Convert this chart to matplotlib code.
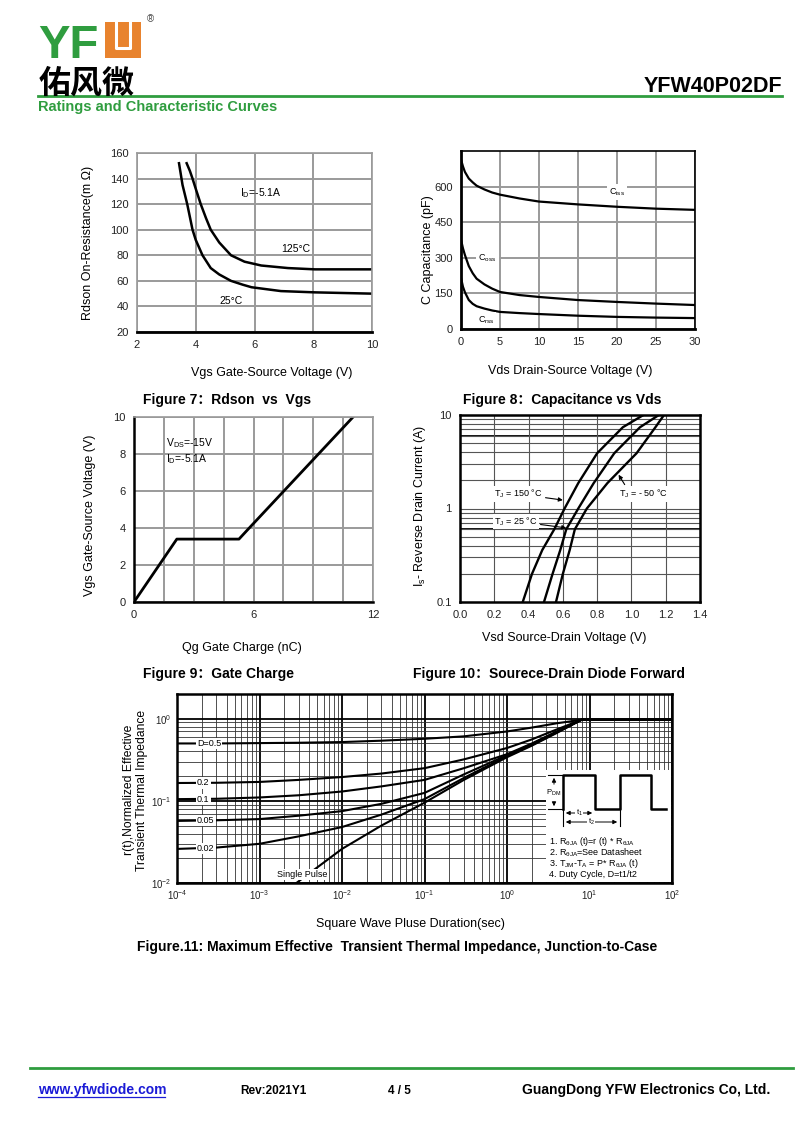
import numpy as np
import matplotlib
matplotlib.use('Agg')
import matplotlib.pyplot as plt
from matplotlib.lines import Line2D
from matplotlib.patches import Rectangle
from matplotlib.ticker import LogLocator, NullFormatter, MultipleLocator, LogFormatterMathtext, FixedLocator, FixedFormatter

plt.rcParams['font.family'] = ['Liberation Sans', 'Noto Sans CJK SC', 'DejaVu Sans']
plt.rcParams['mathtext.fontset'] = 'custom'
plt.rcParams['mathtext.rm'] = 'Liberation Sans'
plt.rcParams['mathtext.it'] = 'Liberation Sans:italic'
plt.rcParams['mathtext.bf'] = 'Liberation Sans:bold'

# ---------------- data ----------------
# Figure 7: Rdson vs Vgs
vgs_25 = [3.43, 3.55, 3.71, 3.89, 4.0, 4.23, 4.51, 4.8, 5.2, 5.6, 5.9, 6.4, 6.9, 8.06, 10.0]
rds_25 = [152, 135, 120, 100, 92, 80, 70, 65, 60, 57, 55, 53.5, 52, 51, 50]
vgs_125 = [3.69, 3.8, 3.89, 4.0, 4.17, 4.35, 4.51, 4.8, 5.2, 5.66, 6.23, 7.14, 8.06, 10.0]
rds_125 = [152, 146, 140, 132, 120, 109, 100, 90, 80, 75, 72, 70, 69, 69]
rds_xticks = [2, 4, 6, 8, 10]
rds_yticks = [20, 40, 60, 80, 100, 120, 140, 160]

# Figure 8: Capacitance vs Vds
vds = [0, 0.25, 0.5, 1, 1.5, 2, 3, 4, 5, 7.5, 10, 15, 20, 25, 30]
ciss = [714, 685, 662, 634, 618, 604, 588, 575, 566, 550, 537, 525, 515, 507, 502]
coss = [376, 340, 312, 265, 235, 212, 188, 170, 156, 143, 135, 122, 114, 107, 101]
crss = [215, 178, 155, 122, 106, 96, 86, 78, 72, 67, 63, 56, 51, 48, 46]
cap_xticks = [0, 5, 10, 15, 20, 25, 30]
cap_yticks = [0, 150, 300, 450, 600]

# Figure 9: Gate charge
qg = [0, 2.15, 5.27, 5.7, 11.0]
vgs_q = [0, 3.4, 3.4, 3.9, 10.0]
qg_xticks = [0, 6, 12]
qg_yticks = [0, 2, 4, 6, 8, 10]

# Figure 10: Source-drain diode forward
isd = [0.1, 0.2, 0.36, 0.6, 1.0, 1.87, 3.9, 7.4, 10.0]
vsd_150 = [0.366, 0.42, 0.48, 0.55, 0.61, 0.69, 0.80, 0.95, 1.07]
vsd_25 = [0.49, 0.54, 0.585, 0.62, 0.69, 0.78, 0.90, 1.05, 1.16]
vsd_m50 = [0.56, 0.60, 0.64, 0.67, 0.74, 0.86, 1.03, 1.14, 1.19]
vsd_xticks = [0.0, 0.2, 0.4, 0.6, 0.8, 1.0, 1.2, 1.4]
isd_emph_grid = [0.6, 6]

# Figure 11: transient thermal impedance
t_d = [1e-4, 3e-4, 1e-3, 3e-3, 1e-2, 3e-2, 0.1, 0.3, 1, 2, 4, 8, 100]
r_d05 = [0.50, 0.50, 0.505, 0.51, 0.52, 0.54, 0.57, 0.61, 0.70, 0.78, 0.88, 0.97, 0.97]
r_d02 = [0.165, 0.166, 0.17, 0.18, 0.195, 0.215, 0.25, 0.32, 0.44, 0.56, 0.74, 0.97, 0.97]
r_d01 = [0.105, 0.106, 0.11, 0.117, 0.13, 0.15, 0.18, 0.25, 0.37, 0.50, 0.70, 0.97, 0.97]
r_d005 = [0.057, 0.058, 0.06, 0.066, 0.075, 0.092, 0.125, 0.21, 0.36, 0.49, 0.69, 0.97, 0.97]
r_d002 = [0.026, 0.027, 0.03, 0.037, 0.048, 0.068, 0.105, 0.19, 0.35, 0.48, 0.68, 0.97, 0.97]
t_single = [0.0028, 0.01, 0.03, 0.1, 0.3, 1, 2, 4, 8, 100]
r_single = [0.01, 0.026, 0.05, 0.095, 0.18, 0.34, 0.47, 0.67, 0.97, 0.97]
duty_labels = ['D=0.5', '0.2', '0.1', '0.05', '0.02']
duty_label_y = [0.5, 0.165, 0.105, 0.057, 0.026]

# inset pulse diagram (schematic units)
pulse_x = [17, 17, 49, 49, 74, 74, 105, 105, 120]
pulse_y = [39, 5, 5, 39, 39, 5, 5, 39, 39]

# ---------------- figure ----------------
W, H = 800, 1130
fig = plt.figure(figsize=(8, 11.3), dpi=100)
GREEN = '#2f9d3f'
ORANGE = '#e8832e'


def box(l, t, r, b):
    return [l / W, 1 - b / H, (r - l) / W, (b - t) / H]


def ftext(x, y, s, **kw):
    return fig.text(x / W, 1 - y / H, s, **kw)


def hline(x0, x1, y, **kw):
    fig.add_artist(Line2D([x0 / W, x1 / W], [1 - y / H, 1 - y / H], **kw))


# Header
ftext(38, 58, 'YF', color=GREEN, fontsize=34, fontweight='bold', va='baseline')
fig.add_artist(Rectangle((105 / W, 1 - 58 / H), 36 / W, 36 / H, facecolor=ORANGE,
                         edgecolor='none', transform=fig.transFigure))
fig.add_artist(Line2D([116 / W, 116 / W, 130 / W, 130 / W],
                      [1 - 22 / H, 1 - 48 / H, 1 - 48 / H, 1 - 22 / H],
                      color='white', lw=2.2, transform=fig.transFigure))
ftext(147, 22, '®', color='#444444', fontsize=7, va='baseline')
ftext(39, 93, '佑风微', fontsize=23, fontweight='bold', family=['Noto Sans CJK SC'], va='baseline')
ftext(782, 92, 'YFW40P02DF', fontsize=15.5, fontweight='bold', ha='right', va='baseline')
hline(38, 782, 96, color=GREEN, lw=2)
ftext(38, 111, 'Ratings and Characteristic Curves', fontsize=10.5, fontweight='bold',
      color=GREEN, va='baseline')

TICKFS = 8
LABFS = 9
TITFS = 10


def style_basic(ax):
    ax.tick_params(length=0, labelsize=TICKFS, pad=6, colors='#222222')
    ax.tick_params(which='minor', length=0)


# ---------------- Figure 7 ----------------
ax7 = fig.add_axes(box(137, 153, 372, 332))
ax7.plot(vgs_25, rds_25, color='k', lw=1.8)
ax7.plot(vgs_125, rds_125, color='k', lw=1.8)
ax7.set_xlim(2, 10)
ax7.set_ylim(20, 160)
ax7.set_xticks(rds_xticks)
ax7.set_yticks(rds_yticks)
ax7.grid(True, color='#9a9a9a', lw=1.4)
ax7.set_axisbelow(True)
style_basic(ax7)
for s in ['top', 'right', 'left']:
    ax7.spines[s].set_color('#9a9a9a')
    ax7.spines[s].set_linewidth(1.2)
ax7.spines['bottom'].set_linewidth(2)
ax7.text(5.5, 129, r'I$_\mathrm{D}$=-5.1A', fontsize=7.5, va='center')
ax7.text(7.4, 85, '125°C', fontsize=7.5, va='center', ha='center')
ax7.text(5.2, 44, '25°C', fontsize=7.5, va='center', ha='center')
ftext(272, 376, 'Vgs Gate-Source Voltage (V)', fontsize=LABFS, ha='center', va='baseline')
ftext(88, 243, 'Rdson On-Resistance(m Ω)', fontsize=LABFS, ha='center', va='center', rotation=90)
ftext(143, 404, 'Figure 7：Rdson  vs  Vgs', fontsize=TITFS, fontweight='bold', va='baseline')

# ---------------- Figure 8 ----------------
ax8 = fig.add_axes(box(461, 151, 695, 329))
ax8.plot(vds, ciss, color='k', lw=1.6)
ax8.plot(vds, coss, color='k', lw=1.6)
ax8.plot(vds, crss, color='k', lw=1.6)
ax8.set_xlim(0, 30)
ax8.set_ylim(0, 750)
ax8.set_xticks(cap_xticks)
ax8.set_yticks(cap_yticks)
ax8.grid(True, color='#9a9a9a', lw=1.4)
ax8.set_axisbelow(True)
style_basic(ax8)
for s in ['top', 'right']:
    ax8.spines[s].set_linewidth(1.2)
for s in ['left', 'bottom']:
    ax8.spines[s].set_linewidth(2)
bb = dict(facecolor='white', edgecolor='none', pad=1.5)
ax8.text(20.0, 578, r'C$_\mathrm{iss}$', fontsize=6.5, ha='center', va='center', bbox=bb)
ax8.text(3.4, 300, r'C$_\mathrm{oss}$', fontsize=6.5, ha='center', va='center', bbox=bb)
ax8.text(3.2, 38, r'C$_\mathrm{rss}$', fontsize=6.5, ha='center', va='center', bbox=bb)
ftext(570, 374, 'Vds Drain-Source Voltage (V)', fontsize=LABFS, ha='center', va='baseline')
ftext(428, 250, 'C Capacitance (pF)', fontsize=LABFS, ha='center', va='center', rotation=90)
ftext(463, 404, 'Figure 8：Capacitance vs Vds', fontsize=TITFS, fontweight='bold', va='baseline')

# ---------------- Figure 9 ----------------
ax9 = fig.add_axes(box(134, 417, 373, 602))
ax9.plot(qg, vgs_q, color='k', lw=2)
ax9.set_xlim(0, 12)
ax9.set_ylim(0, 10)
ax9.set_xticks(qg_xticks)
ax9.xaxis.set_minor_locator(MultipleLocator(1.5))
ax9.set_yticks(qg_yticks)
ax9.grid(True, which='both', axis='x', color='#9a9a9a', lw=1.4)
ax9.grid(True, which='major', axis='y', color='#9a9a9a', lw=1.4)
ax9.set_axisbelow(True)
style_basic(ax9)
for s in ['top', 'right']:
    ax9.spines[s].set_color('#9a9a9a')
    ax9.spines[s].set_linewidth(1.2)
for s in ['left', 'bottom']:
    ax9.spines[s].set_linewidth(1.8)
ax9.text(1.6, 8.6, r'V$_\mathrm{DS}$=-15V', fontsize=7.5, va='center')
ax9.text(1.6, 7.7, r'I$_\mathrm{D}$=-5.1A', fontsize=7.5, va='center')
ftext(242, 651, 'Qg Gate Charge (nC)', fontsize=LABFS, ha='center', va='baseline')
ftext(90, 515, 'Vgs Gate-Source Voltage (V)', fontsize=LABFS, ha='center', va='center', rotation=90)
ftext(143, 678, 'Figure 9：Gate Charge', fontsize=TITFS, fontweight='bold', va='baseline')

# ---------------- Figure 10 ----------------
ax10 = fig.add_axes(box(460, 415, 700, 602))
ax10.plot(vsd_150, isd, color='k', lw=1.7)
ax10.plot(vsd_25, isd, color='k', lw=1.7)
ax10.plot(vsd_m50, isd, color='k', lw=1.7)
ax10.set_yscale('log')
ax10.set_xlim(0, 1.4)
ax10.set_ylim(0.1, 10)
ax10.set_xticks(vsd_xticks)
ax10.set_xticklabels(['%.1f' % v for v in vsd_xticks])
ax10.yaxis.set_major_locator(FixedLocator([0.1, 1, 10]))
ax10.yaxis.set_major_formatter(FixedFormatter(['0.1', '1', '10']))
ax10.yaxis.set_minor_locator(LogLocator(base=10, subs=np.arange(2, 10)))
ax10.yaxis.set_minor_formatter(NullFormatter())
ax10.grid(True, which='both', color='#555555', lw=0.8)
for yv in isd_emph_grid:
    ax10.axhline(yv, color='k', lw=1.3, zorder=0.5)
ax10.set_axisbelow(True)
style_basic(ax10)
for s in ax10.spines.values():
    s.set_linewidth(1.8)
ap = dict(arrowstyle='-|>', color='k', lw=0.8, mutation_scale=6, shrinkA=1, shrinkB=0)
tb = dict(facecolor='white', edgecolor='none', pad=1)
ax10.annotate(r'T$_\mathrm{J}$ = 150 °C', xy=(0.60, 1.23), xytext=(0.2, 1.43), fontsize=6.5,
              va='center', ha='left', arrowprops=ap, bbox=tb)
ax10.annotate(r'T$_\mathrm{J}$ = 25 °C', xy=(0.62, 0.62), xytext=(0.2, 0.73), fontsize=6.5,
              va='center', ha='left', arrowprops=ap, bbox=tb)
ax10.annotate('', xy=(0.925, 2.3), xytext=(0.965, 1.75), arrowprops=ap)
ax10.text(0.93, 1.43, r'T$_\mathrm{J}$ = - 50 °C', fontsize=6.5, va='center', ha='left', bbox=tb)
ftext(564, 641, 'Vsd Source-Drain Voltage (V)', fontsize=LABFS, ha='center', va='baseline')
ftext(420, 506, r'I$_\mathrm{s}$- Reverse Drain Current (A)', fontsize=LABFS, ha='center',
      va='center', rotation=90)
ftext(413, 678, 'Figure 10：Sourece-Drain Diode Forward', fontsize=TITFS, fontweight='bold',
      va='baseline')

# ---------------- Figure 11 ----------------
ax11 = fig.add_axes(box(177, 694, 672, 883))
for rv in [r_d05, r_d02, r_d01, r_d005, r_d002]:
    ax11.plot(t_d, rv, color='k', lw=1.5)
ax11.plot(t_single, r_single, color='k', lw=1.5)
ax11.set_xscale('log')
ax11.set_yscale('log')
ax11.set_xlim(1e-4, 1e2)
ax11.set_ylim(1e-2, 2)
ax11.xaxis.set_major_locator(LogLocator(base=10, numticks=10))
ax11.xaxis.set_major_formatter(LogFormatterMathtext())
ax11.xaxis.set_minor_locator(LogLocator(base=10, subs=np.arange(2, 10), numticks=20))
ax11.xaxis.set_minor_formatter(NullFormatter())
ax11.yaxis.set_major_locator(FixedLocator([1e-2, 1e-1, 1]))
ax11.yaxis.set_major_formatter(LogFormatterMathtext())
ax11.yaxis.set_minor_locator(LogLocator(base=10, subs=np.arange(2, 10), numticks=20))
ax11.yaxis.set_minor_formatter(NullFormatter())
ax11.grid(True, which='major', color='k', lw=1.3)
ax11.grid(True, which='minor', color='#333333', lw=0.6)
ax11.set_axisbelow(True)
ax11.tick_params(length=0, labelsize=7, pad=4, colors='#222222')
ax11.tick_params(which='minor', length=0)
for s in ax11.spines.values():
    s.set_linewidth(1.8)
lb = dict(facecolor='white', edgecolor='none', pad=0.8)
for lab, yv in zip(duty_labels, duty_label_y):
    ax11.text(1.75e-4, yv, lab, fontsize=6.5, ha='left', va='center', bbox=lb)
ax11.text(3.3e-3, 0.0128, 'Single Pulse', fontsize=6.5, ha='center', va='center', bbox=lb)

# inset diagram
axi = fig.add_axes(box(546, 770, 671, 882))
axi.set_facecolor('white')
axi.set_xlim(0, 125)
axi.set_ylim(112, 0)
axi.set_xticks([])
axi.set_yticks([])
for s in axi.spines.values():
    s.set_visible(False)
axi.plot(pulse_x, pulse_y, color='k', lw=1.8)
axi.plot([2, 16], [5, 5], color='k', lw=0.8)
axi.plot([2, 16], [39, 39], color='k', lw=0.8)
axi.annotate('', xy=(8, 5), xytext=(8, 17), arrowprops=dict(arrowstyle='-|>', lw=0.7, color='k',
                                                            mutation_scale=6))
axi.annotate('', xy=(8, 39), xytext=(8, 29), arrowprops=dict(arrowstyle='-|>', lw=0.7, color='k',
                                                             mutation_scale=6))
axi.text(8, 23, r'P$_\mathrm{DM}$', fontsize=5.5, ha='center', va='center')
axi.plot([17, 17], [39, 56], color='k', lw=0.8)
axi.plot([74, 74], [39, 56], color='k', lw=0.8)
axi.annotate('', xy=(17, 43), xytext=(49, 43), arrowprops=dict(arrowstyle='<|-|>', lw=0.7,
                                                               color='k', mutation_scale=6))
axi.text(33, 43, r't$_1$', fontsize=5.5, ha='center', va='center',
         bbox=dict(facecolor='white', edgecolor='none', pad=0.5))
axi.annotate('', xy=(17, 52), xytext=(74, 52), arrowprops=dict(arrowstyle='<|-|>', lw=0.7,
                                                               color='k', mutation_scale=6))
axi.text(45, 52, r't$_2$', fontsize=5.5, ha='center', va='center',
         bbox=dict(facecolor='white', edgecolor='none', pad=0.5))
notes = [r'1. R$_\mathrm{θJA}$ (t)=r (t) * R$_\mathrm{θJA}$',
         r'2. R$_\mathrm{θJA}$=See Datasheet',
         r'3. T$_\mathrm{JM}$-T$_\mathrm{A}$ = P* R$_\mathrm{θJA}$ (t)',
         '4. Duty Cycle, D=t1/t2']
for i, n in enumerate(notes):
    axi.text(3, 72 + i * 10.7, n, fontsize=6.5, ha='left', va='center')

ftext(410, 927, 'Square Wave Pluse Duration(sec)', fontsize=LABFS, ha='center', va='baseline')
ftext(129, 790, 'r(t),Normalized Effective', fontsize=8.7, ha='center', va='center', rotation=90)
ftext(142, 790, 'Transient Thermal Impedance', fontsize=8.7, ha='center', va='center', rotation=90)
ftext(137, 951, 'Figure.11: Maximum Effective  Transient Thermal Impedance, Junction-to-Case',
      fontsize=TITFS, fontweight='bold', va='baseline')

# Footer
hline(30, 793, 1068, color=GREEN, lw=2)
ftext(38, 1094, 'www.yfwdiode.com', fontsize=10, fontweight='bold', color='#1b1bd6', va='baseline')
hline(38, 165, 1097, color='#1b1bd6', lw=0.9)
ftext(240, 1094, 'Rev:2021Y1', fontsize=8.5, fontweight='bold', va='baseline')
ftext(388, 1094, '4 / 5', fontsize=8.5, fontweight='bold', va='baseline')
ftext(770, 1094, 'GuangDong YFW Electronics Co, Ltd.', fontsize=10, fontweight='bold',
      ha='right', va='baseline')

fig.savefig('out.png', dpi=100)
